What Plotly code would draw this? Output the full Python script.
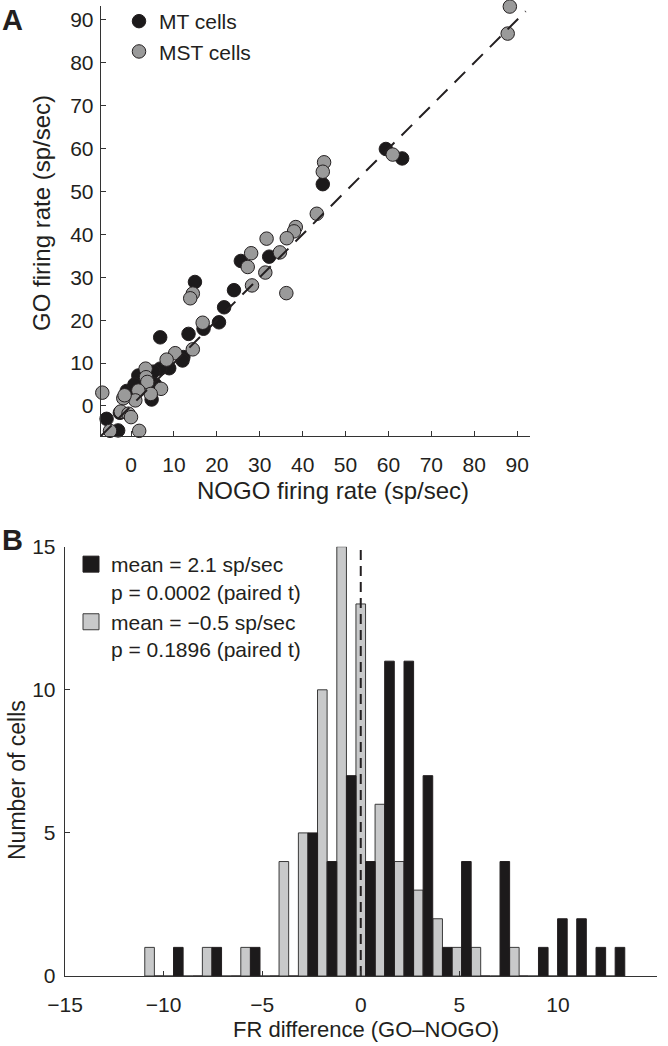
import plotly.graph_objects as go

# ---------------- Panel A data (NOGO, GO firing rates, sp/sec) ----------------
mt_nogo = [59.4, 63.2, 44.7, 25.6, 32.2, 14.9, 24.0, 21.7, 20.5, 16.9, 13.4, 6.8,
           12.2, 12.0, 8.9, 6.8, 5.2, 1.7, 4.8, 3.8, -1.0, -2.6, -5.7, -3.0, 5.6, 0.8]
mt_go = [59.9, 57.7, 51.7, 33.8, 34.8, 28.9, 27.0, 23.0, 19.5, 18.0, 16.8, 16.0,
         11.4, 10.6, 8.8, 8.7, 8.0, 7.1, 1.5, 6.0, 3.5, -1.6, -3.0, -5.7, 5.0, 5.0]

mst_nogo = [88.3, 87.8, 61.0, 45.0, 44.7, 43.3, 38.4, 38.0, 36.3, 31.6, 34.7, 28.0,
            27.2, 31.3, 28.2, 36.2, 14.4, 13.8, 16.7, 14.4, 10.3, 8.3, 3.4, 3.5,
            3.8, 7.0, 4.6, 1.7, 1.0, -1.8, -1.5, -2.4, -0.6, 0.0, -6.7, -4.9, 1.9]
mst_go = [93.1, 86.8, 58.6, 56.8, 54.6, 44.8, 41.7, 40.7, 39.1, 39.0, 35.8, 35.6,
          32.4, 31.1, 28.1, 26.3, 26.2, 25.1, 19.4, 13.2, 12.3, 10.8, 8.7, 6.7,
          5.6, 4.0, 2.8, 3.6, 1.3, 1.8, 2.5, -1.3, -1.8, -2.6, 3.1, -5.8, -5.8]

unity_line = [-7, 92]
rate_ticks = [0, 10, 20, 30, 40, 50, 60, 70, 80, 90]

# ---------------- Panel B data (histogram of GO-NOGO differences) ----------------
bin_centers = [-10.71, -9.74, -8.77, -7.79, -6.82, -5.84, -4.87, -3.90, -2.92,
               -1.95, -0.97, 0.00, 0.97, 1.95, 2.92, 3.90, 4.87, 5.84, 6.82,
               7.79, 8.77, 9.74, 10.71, 11.69, 12.66]
mst_counts = [1, 0, 0, 1, 0, 1, 0, 4, 5, 10, 15, 13, 6, 4, 3, 2, 1, 1, 0, 1, 0, 0, 0, 0, 0]
mt_counts = [0, 1, 0, 1, 0, 1, 0, 0, 5, 4, 7, 4, 11, 11, 7, 1, 4, 0, 4, 0, 1, 2, 2, 1, 1]
bar_w = 0.487
zero_line_x = [0, 0]
zero_line_y = [0, 15]
diff_ticks = [-15, -10, -5, 0, 5, 10, 15]
count_ticks = [0, 5, 10, 15]

mt_label = "mean = 2.1 sp/sec<br>p = 0.0002 (paired t)"
mst_label = "mean = \u22120.5 sp/sec<br>p = 0.1896 (paired t)"

INK = "#231f20"
BLACK = "#1c1a1b"
GRAY_MARK = "#9a9a9a"
GRAY_BAR = "#c8c9ca"
FONT = "Liberation Sans, Arial, Helvetica, sans-serif"

fig = go.Figure()

# Panel A
fig.add_trace(go.Scatter(x=mt_nogo, y=mt_go, mode="markers", name="MT cells",
                         marker=dict(size=13.5, color=BLACK, line=dict(color=INK, width=1)),
                         cliponaxis=False, xaxis="x", yaxis="y", legend="legend"))
fig.add_trace(go.Scatter(x=mst_nogo, y=mst_go, mode="markers", name="MST cells",
                         marker=dict(size=13.5, color=GRAY_MARK, line=dict(color=INK, width=1)),
                         cliponaxis=False, xaxis="x", yaxis="y", legend="legend"))
fig.add_trace(go.Scatter(x=unity_line, y=unity_line, mode="lines", showlegend=False,
                         line=dict(color=INK, width=2, dash="15px,10px"),
                         xaxis="x", yaxis="y", hoverinfo="skip"))

# Panel B bars
fig.add_trace(go.Bar(x=bin_centers, y=mst_counts, width=bar_w, offset=-bar_w / 2,
                     marker=dict(color=GRAY_BAR, line=dict(color="#3a3a3a", width=1)),
                     showlegend=False, xaxis="x2", yaxis="y2"))
fig.add_trace(go.Bar(x=bin_centers, y=mt_counts, width=bar_w, offset=bar_w / 2,
                     marker=dict(color=BLACK, line=dict(color=INK, width=1)),
                     showlegend=False, xaxis="x2", yaxis="y2"))
fig.add_trace(go.Scatter(x=zero_line_x, y=zero_line_y, mode="lines", showlegend=False,
                         line=dict(color=INK, width=2, dash="10px,6px"),
                         xaxis="x2", yaxis="y2", hoverinfo="skip"))
# legend entries for panel B
fig.add_trace(go.Scatter(x=[None], y=[None], mode="markers", name=mt_label,
                         marker=dict(symbol="square", size=16, color=BLACK,
                                     line=dict(color=INK, width=1)),
                         xaxis="x2", yaxis="y2", legend="legend2"))
fig.add_trace(go.Scatter(x=[None], y=[None], mode="markers", name=mst_label,
                         marker=dict(symbol="square", size=16, color=GRAY_BAR,
                                     line=dict(color="#3a3a3a", width=1)),
                         xaxis="x2", yaxis="y2", legend="legend2"))

W, H = 668, 1046
def px_x(p):
    return p / W
def px_y(p):
    return 1 - p / H

axis_common = dict(showline=True, linecolor="#333333", linewidth=1.3, mirror=False,
                   showgrid=False, zeroline=False, ticks="inside", ticklen=5,
                   tickcolor="#333333", tickwidth=1, automargin=False,
                   tickfont=dict(family=FONT, size=21, color=INK))

fig.update_layout(
    width=W, height=H,
    margin=dict(l=0, r=0, t=0, b=0, pad=0, autoexpand=False),
    paper_bgcolor="white", plot_bgcolor="white",
    font=dict(family=FONT, color=INK),
    barmode="overlay",
    xaxis=dict(domain=[px_x(101), px_x(530)], range=[-7, 93], tickvals=rate_ticks,
               anchor="y", ticklabelstandoff=9, **axis_common),
    yaxis=dict(domain=[px_y(436), px_y(5.7)], range=[-7, 93.3], tickvals=rate_ticks,
               anchor="x", ticklabelstandoff=2, **axis_common),
    xaxis2=dict(domain=[px_x(65), px_x(656.5)], range=[-15, 15], tickvals=diff_ticks,
                anchor="y2", ticklabelstandoff=9, **axis_common),
    yaxis2=dict(domain=[px_y(976), px_y(546.7)], range=[0, 15], tickvals=count_ticks,
                anchor="x2", ticklabelstandoff=4, **axis_common),
    legend=dict(x=px_x(119), y=px_y(1), xanchor="left", yanchor="top",
                bgcolor="rgba(0,0,0,0)", font=dict(family=FONT, size=21, color=INK),
                itemsizing="trace", tracegroupgap=0),
    legend2=dict(x=px_x(71), y=px_y(544), xanchor="left", yanchor="top", valign="top",
                 bgcolor="rgba(0,0,0,0)", font=dict(family=FONT, size=21, color=INK),
                 itemsizing="trace", tracegroupgap=0),
    annotations=[
        dict(text="<b>A</b>", x=0.0, y=px_y(2), xref="paper", yref="paper",
             xanchor="left", yanchor="top", showarrow=False,
             font=dict(family=FONT, size=29, color=INK)),
        dict(text="<b>B</b>", x=0.0, y=px_y(522), xref="paper", yref="paper",
             xanchor="left", yanchor="top", showarrow=False,
             font=dict(family=FONT, size=29, color=INK)),
        dict(text="NOGO firing rate (sp/sec)", x=px_x(333), y=px_y(490), xref="paper",
             yref="paper", xanchor="center", yanchor="middle", showarrow=False,
             font=dict(family=FONT, size=24, color=INK)),
        dict(text="GO firing rate (sp/sec)", x=px_x(42), y=px_y(213), xref="paper",
             yref="paper", xanchor="center", yanchor="middle", showarrow=False,
             textangle=-90, font=dict(family=FONT, size=24, color=INK)),
        dict(text="FR difference (GO\u2013NOGO)", x=px_x(366), y=px_y(1029), xref="paper",
             yref="paper", xanchor="center", yanchor="middle", showarrow=False,
             font=dict(family=FONT, size=22, color=INK)),
        dict(text="Number of cells", x=px_x(17), y=px_y(780), xref="paper",
             yref="paper", xanchor="center", yanchor="middle", showarrow=False,
             textangle=-90, font=dict(family=FONT, size=23, color=INK)),
    ],
)

fig.write_html(
    "out.html",
    config={"displayModeBar": False, "staticPlot": True},
    post_script="document.body.style.margin='0';document.body.style.padding='0';"
                "document.documentElement.style.overflow='hidden';",
)
